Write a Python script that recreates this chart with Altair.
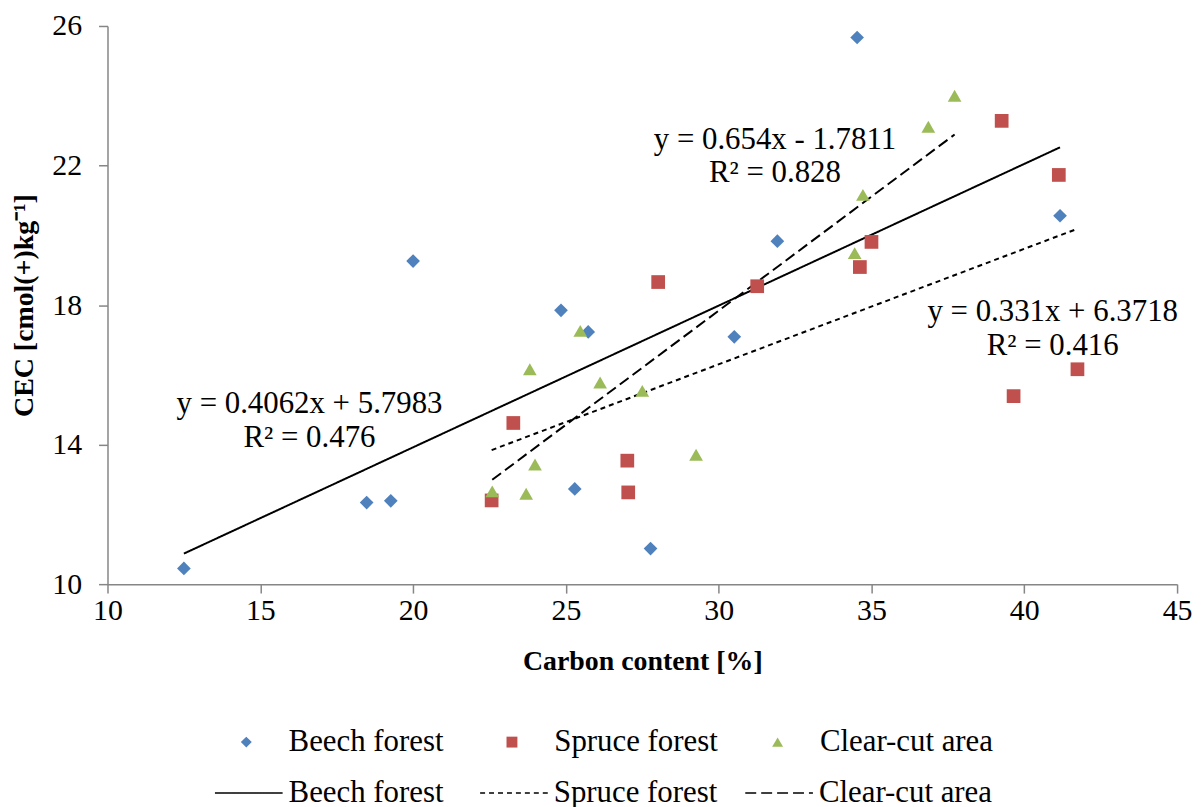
import altair as alt
import pandas as pd

FONT = "Liberation Serif"

series = ["Beech forest", "Spruce forest", "Clear-cut area"]
colors = ["#4F81BD", "#C0504D", "#9BBB59"]
shapes = ["diamond", "square", "triangle-up"]

beech_x = [12.5, 18.48, 19.27, 20.0, 24.84, 25.73, 25.29, 27.77, 30.51, 31.92, 34.53, 41.17]
beech_y = [10.45, 12.34, 12.39, 19.26, 17.85, 17.23, 12.73, 11.02, 17.09, 19.83, 25.67, 20.56]

spruce_x = [22.57, 23.28, 27.01, 27.04, 28.02, 31.26, 34.62, 35.0, 39.26, 39.65, 41.13, 41.74]
spruce_y = [12.4, 14.62, 13.54, 12.63, 18.66, 18.54, 19.09, 19.81, 23.28, 15.39, 21.73, 16.16]

clear_x = [22.59, 23.7, 23.82, 23.99, 25.47, 26.12, 27.5, 29.26, 34.45, 34.72, 36.86, 37.72]
clear_y = [12.66, 12.59, 16.16, 13.43, 17.26, 15.78, 15.54, 13.71, 19.49, 21.16, 23.11, 24.0]

slopes = [0.4062, 0.331, 0.654]
intercepts = [5.7983, 6.3718, -1.7811]
eq_labels = ["y = 0.4062x + 5.7983", "y = 0.331x + 6.3718", "y = 0.654x - 1.7811"]
r2_labels = ["R² = 0.476", "R² = 0.416", "R² = 0.828"]
eq_x = [16.61, 40.93, 31.84]
eq_y = [15.17, 17.8, 22.72]
r2_x = [16.61, 40.93, 31.84]
r2_y = [14.2, 16.83, 21.77]

xs_all = [beech_x, spruce_x, clear_x]
ys_all = [beech_y, spruce_y, clear_y]

# trend-line names carry a trailing space so their legend is kept apart from the marker legend
trend_names = [s + " " for s in series]

pts = pd.DataFrame(
    [{"series": s, "x": x, "y": y} for s, xs, ys in zip(series, xs_all, ys_all) for x, y in zip(xs, ys)]
)

line_rows = []
for s, xs, m, b in zip(trend_names, xs_all, slopes, intercepts):
    for xv in (min(xs), max(xs)):
        line_rows.append({"trend": s, "x": xv, "y": m * xv + b})
lines = pd.DataFrame(line_rows)

labels = pd.DataFrame(
    [{"label": t, "x": x, "y": y} for t, x, y in zip(eq_labels, eq_x, eq_y)]
    + [{"label": t, "x": x, "y": y} for t, x, y in zip(r2_labels, r2_x, r2_y)]
)

xscale = alt.Scale(domain=[10, 45], nice=False, zero=False)
yscale = alt.Scale(domain=[10, 26], nice=False, zero=False)

xaxis = alt.Axis(
    title="Carbon content [%]",
    values=[10, 15, 20, 25, 30, 35, 40, 45],
    format="d",
    grid=False,
    labelFlush=False,
    labelPadding=3,
    titlePadding=22,
)
yaxis = alt.Axis(
    title="CEC [cmol(+)kg⁻¹]",
    values=[10, 14, 18, 22, 26],
    format="d",
    grid=False,
    labelFlush=False,
    labelPadding=17,
    titlePadding=13,
)

pt_legend = alt.Legend(
    title=None,
    orient="none",
    legendX=124,
    legendY=704,
    direction="horizontal",
    columns=3,
    gridAlign="all",
    columnPadding=34,
    symbolSize=120,
    labelOffset=27,
    labelFontSize=31,
    labelFont=FONT,
    labelColor="black",
    labelLimit=0,
    padding=0,
)

points = alt.Chart(pts).mark_point(filled=True, opacity=1, size=190).encode(
    x=alt.X("x:Q", scale=xscale, axis=xaxis),
    y=alt.Y("y:Q", scale=yscale, axis=yaxis),
    color=alt.Color("series:N", scale=alt.Scale(domain=series, range=colors), legend=pt_legend),
    shape=alt.Shape("series:N", scale=alt.Scale(domain=series, range=shapes), legend=pt_legend),
)

ln_legend = alt.Legend(
    title=None,
    orient="none",
    legendX=107,
    legendY=736,
    direction="horizontal",
    columns=3,
    gridAlign="all",
    columnPadding=14.5,
    symbolType="stroke",
    symbolSize=4624,
    symbolStrokeColor="black",
    symbolStrokeWidth=1.5,
    labelOffset=5,
    labelFontSize=31,
    labelFont=FONT,
    labelColor="black",
    labelLimit=0,
    padding=0,
)

trend = alt.Chart(lines).mark_line(color="black", strokeWidth=2).encode(
    x="x:Q",
    y="y:Q",
    strokeDash=alt.StrokeDash(
        "trend:N",
        scale=alt.Scale(domain=trend_names, range=[[1, 0], [5, 4], [11, 5]]),
        legend=ln_legend,
    ),
)

text = alt.Chart(labels).mark_text(font=FONT, fontSize=31, color="black", align="center", baseline="middle").encode(
    x="x:Q", y="y:Q", text="label:N"
)

chart = (
    alt.layer(trend, points, text)
    .properties(
        width=1075,
        height=561,
        autosize=alt.AutoSizeParams(type="none"),
        padding={"left": 100, "top": 16, "right": 16, "bottom": 240},
    )
    .configure_view(stroke=None)
    .configure_axis(
        domainColor="#868686",
        tickColor="#868686",
        domainWidth=1.5,
        tickWidth=1.5,
        tickSize=9,
        labelFont=FONT,
        labelFontSize=30,
        labelColor="black",
        titleFont=FONT,
        titleFontSize=28,
        titleFontWeight="bold",
        titleColor="black",
    )
)

chart.save("out.html", embed_options={"renderer": "svg", "actions": False})
